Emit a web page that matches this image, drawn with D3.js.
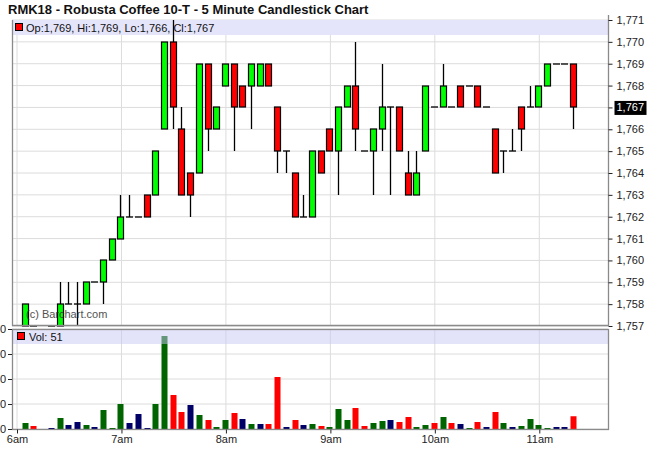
<!DOCTYPE html>
<html>
<head>
<meta charset="utf-8">
<script src="https://cdn.jsdelivr.net/npm/d3@7"></script>
<style>
  html, body { margin: 0; padding: 0; background: #fff; }
  svg { display: block; font-family: "Liberation Sans", Arial, sans-serif; }
</style>
</head>
<body>
<svg id="chart" width="650" height="470"></svg>
<script>
// ---- data (5-minute bars) ----
const times = ["06:05","06:10","06:20","06:25","06:30","06:35","06:40","06:45","06:50","06:55",
  "07:00","07:05","07:10","07:15","07:20","07:25","07:30","07:35","07:40","07:45","07:50","07:55",
  "08:00","08:05","08:10","08:15","08:20","08:25","08:30","08:35","08:40","08:45","08:50","08:55",
  "09:00","09:05","09:10","09:15","09:20","09:25","09:30","09:35","09:40","09:45","09:50","09:55",
  "10:00","10:05","10:10","10:15","10:20","10:25","10:30","10:35","10:40","10:45","10:50","10:55",
  "11:00","11:05","11:10","11:15","11:20"];
const opens = [1757,1757,1757,1757,1758,1758,1758,1759,1759,1760,
  1761,1762,1762,1763,1763,1766,1770,1766,1764,1764,1769,1766,
  1768,1769,1768,1768,1768,1769,1767,1765,1764,1762,1762,1765,
  1766,1765,1767,1768,1765,1765,1766,1767,1767,1764,1763,1765,
  1767,1767,1767,1768,1768,1768,1767,1766,1765,1765,1767,1767,
  1767,1768,1769,1769,1769];
const highs = [1758,1757,1757,1759,1759,1759,1759,1759,1760,1761,
  1763,1763,1762,1763,1765,1770,1771,1767,1764,1769,1769,1767,
  1769,1769,1768,1769,1769,1769,1767,1765,1764,1763,1765,1765,
  1766,1767,1768,1770,1765,1766,1769,1767,1767,1765,1765,1768,
  1767,1769,1767,1768,1768,1768,1767,1766,1765,1766,1767,1768,
  1768,1769,1769,1769,1769];
const lows = [1757,1757,1757,1757,1758,1757,1758,1759,1758,1760,
  1761,1762,1762,1762,1763,1766,1766,1763,1762,1764,1765,1766,
  1768,1765,1767,1766,1768,1768,1764,1764,1762,1762,1762,1764,
  1765,1763,1767,1765,1765,1763,1765,1763,1765,1763,1763,1765,
  1767,1767,1767,1767,1768,1767,1767,1764,1764,1765,1765,1767,
  1767,1768,1769,1769,1766];
const closes = [1758,1757,1757,1758,1758,1758,1759,1759,1760,1761,
  1762,1762,1762,1762,1765,1770,1767,1763,1763,1769,1766,1767,
  1769,1767,1767,1769,1769,1768,1765,1765,1762,1762,1765,1764,
  1765,1767,1768,1766,1765,1766,1767,1767,1765,1763,1764,1768,
  1767,1768,1767,1767,1768,1767,1767,1764,1765,1765,1766,1767,
  1768,1769,1769,1769,1767];
const volumes = [24,12,4,44,16,28,16,8,76,4,
  100,24,60,4,100,372,136,68,96,56,36,8,
  36,64,40,20,20,20,208,8,36,16,20,12,
  8,80,36,84,12,24,32,36,28,48,8,16,
  24,48,24,20,4,28,8,68,24,8,12,40,
  16,4,8,8,51];
const priceTicks = [1757,1758,1759,1760,1761,1762,1763,1764,1765,1766,1767,1768,1769,1770,1771];
const volumeTicks = [0,100,200,300,400];
const hourTicks = ["06:00","07:00","08:00","09:00","10:00","11:00"];

const titleText = "RMK18 - Robusta Coffee 10-T - 5 Minute Candlestick Chart";

// ---- setup ----
const parse = d3.timeParse("%H:%M");
const bars = times.map((t, i) => ({
  t: parse(t), o: opens[i], h: highs[i], l: lows[i], c: closes[i], v: volumes[i],
  pc: i > 0 ? closes[i - 1] : closes[i] - 1
}));
const last = bars[bars.length - 1];

const svg = d3.select("#chart");
const L = 12, R = 608;
const pTop = 20, pBot = 326;
const vTop = 329, vBot = 429;

const x = d3.scaleTime().domain([parse("06:00"), parse("11:00")]).range([17, 539.3]);
const y = d3.scaleLinear().domain([1757, 1771]).range([pBot, pTop]);
const yv = d3.scaleLinear().domain([0, 400]).range([vBot, vTop]);

const gridC = "#dcdcdc", frameC = "#8a8a8a";

// title
svg.append("text").attr("x", 8).attr("y", 14)
  .attr("font-size", 13).attr("font-weight", "bold").attr("fill", "#111")
  .text(titleText);

// ---- price panel ----
const pg = svg.append("g");
pg.selectAll("line.hg").data(priceTicks).join("line")
  .attr("x1", L).attr("x2", R).attr("y1", d => y(d)).attr("y2", d => y(d))
  .attr("stroke", gridC);
pg.selectAll("line.vg").data(hourTicks.map(parse)).join("line")
  .attr("x1", d => x(d)).attr("x2", d => x(d)).attr("y1", pTop).attr("y2", pBot)
  .attr("stroke", gridC);

// header band
pg.append("rect").attr("x", L).attr("y", pTop).attr("width", R - L).attr("height", 15)
  .attr("fill", "#e4e4fa");
pg.append("rect").attr("x", 15.5).attr("y", 23.5).attr("width", 7).attr("height", 7)
  .attr("fill", "#ff0000").attr("stroke", "#000");
pg.append("text").attr("x", 26).attr("y", 32).attr("font-size", 11).attr("fill", "#111")
  .text(`Op:${d3.format(",")(last.o)}, Hi:${d3.format(",")(last.h)}, Lo:${d3.format(",")(last.l)}, Cl:${d3.format(",")(last.c)}`);

// candles
const bw = 6;
const cg = pg.append("g");
bars.forEach(b => {
  const cx = Math.round(x(b.t)) - 0.5;
  if (b.h !== b.l) {
    cg.append("line").attr("x1", cx).attr("x2", cx)
      .attr("y1", Math.round(y(b.h))).attr("y2", Math.round(y(b.l)))
      .attr("stroke", "#000").attr("stroke-width", 1.3);
  }
  if (b.o === b.c) {
    cg.append("line").attr("x1", cx - 3.5).attr("x2", cx + 3.5)
      .attr("y1", Math.round(y(b.c))).attr("y2", Math.round(y(b.c)))
      .attr("stroke", "#000").attr("stroke-width", 1.3);
  } else {
    const top = Math.round(y(Math.max(b.o, b.c))), bot = Math.round(y(Math.min(b.o, b.c)));
    cg.append("rect").attr("x", cx - bw / 2).attr("y", top).attr("width", bw).attr("height", bot - top)
      .attr("fill", b.c > b.o ? "#00ff00" : "#ff0000").attr("stroke", "#000").attr("stroke-width", 1.2);
  }
});

// watermark (drawn over candles)
pg.append("text").attr("x", 26).attr("y", 318).attr("font-size", 11).attr("fill", "#333")
  .attr("opacity", 0.85).text("(c) Barchart.com");

// frames price
pg.append("line").attr("x1", L + 0.5).attr("x2", L + 0.5).attr("y1", pTop).attr("y2", pBot).attr("stroke", frameC).attr("stroke-width", 1.3);
pg.append("line").attr("x1", R + 0.5).attr("x2", R + 0.5).attr("y1", pTop - 5).attr("y2", pBot).attr("stroke", frameC).attr("stroke-width", 1.3);
pg.append("line").attr("x1", L).attr("x2", R).attr("y1", pBot - 0.5).attr("y2", pBot - 0.5).attr("stroke", frameC).attr("stroke-width", 1.3);

// right price axis
const yAxis = d3.axisRight(y).tickValues(priceTicks).tickFormat(d3.format(",")).tickSize(4).tickPadding(4);
const ya = svg.append("g").attr("transform", `translate(${R + 0.5},0)`).call(yAxis);
ya.select(".domain").remove();
ya.selectAll("line").attr("stroke", "#222");
ya.selectAll("text").attr("font-size", 11).attr("fill", "#222")
  .attr("font-family", "'Liberation Sans', Arial, sans-serif");
// last price highlight
const lp = ya.selectAll(".tick").filter(d => d === last.c);
lp.insert("rect", "text").attr("x", 6).attr("y", -7).attr("width", 32).attr("height", 14).attr("fill", "#000");
lp.select("text").attr("fill", "#fff");

// ---- volume panel ----
const vg = svg.append("g");
vg.selectAll("line.hg").data(volumeTicks).join("line")
  .attr("x1", L).attr("x2", R).attr("y1", d => yv(d)).attr("y2", d => yv(d))
  .attr("stroke", gridC);
vg.selectAll("line.vg").data(hourTicks.map(parse)).join("line")
  .attr("x1", d => x(d)).attr("x2", d => x(d)).attr("y1", vTop).attr("y2", vBot)
  .attr("stroke", gridC);
vg.selectAll("rect.vb").data(bars).join("rect")
  .attr("x", d => Math.round(x(d.t)) - 3.5).attr("width", 6)
  .attr("y", d => yv(d.v)).attr("height", d => vBot - yv(d.v))
  .attr("fill", d => d.c > d.pc ? "#006400" : d.c < d.pc ? "#ff0000" : "#000066");
// band over volume (semi-transparent)
vg.append("rect").attr("x", L).attr("y", vTop).attr("width", R - L).attr("height", 15)
  .attr("fill", "#c8c8f5").attr("opacity", 0.5);
vg.append("rect").attr("x", 17.5).attr("y", 332.5).attr("width", 7).attr("height", 7)
  .attr("fill", "#ff0000").attr("stroke", "#000");
vg.append("text").attr("x", 29).attr("y", 341).attr("font-size", 11).attr("fill", "#111")
  .text(`Vol: ${last.v}`);
// frames volume
vg.append("rect").attr("x", L + 0.5).attr("y", vTop + 0.5).attr("width", R - L).attr("height", vBot - vTop)
  .attr("fill", "none").attr("stroke", frameC).attr("stroke-width", 1.3);

// left volume axis
const vAxis = d3.axisLeft(yv).tickValues(volumeTicks).tickSize(4).tickPadding(2);
const va = svg.append("g").attr("transform", `translate(${L},0)`).call(vAxis);
va.select(".domain").remove();
va.selectAll("line").attr("stroke", "#222");
va.selectAll("text").attr("font-size", 11).attr("fill", "#222")
  .attr("font-family", "'Liberation Sans', Arial, sans-serif");

// x axis
const xAxis = d3.axisBottom(x).tickValues(hourTicks.map(parse))
  .tickFormat(d => d3.timeFormat("%-I%p")(d).toLowerCase()).tickSize(4).tickPadding(2);
const xa = svg.append("g").attr("transform", `translate(0,${vBot + 0.5})`).call(xAxis);
xa.select(".domain").remove();
xa.selectAll("line").attr("stroke", "#222");
xa.selectAll("text").attr("font-size", 11).attr("fill", "#222")
  .attr("font-family", "'Liberation Sans', Arial, sans-serif");
</script>
</body>
</html>
